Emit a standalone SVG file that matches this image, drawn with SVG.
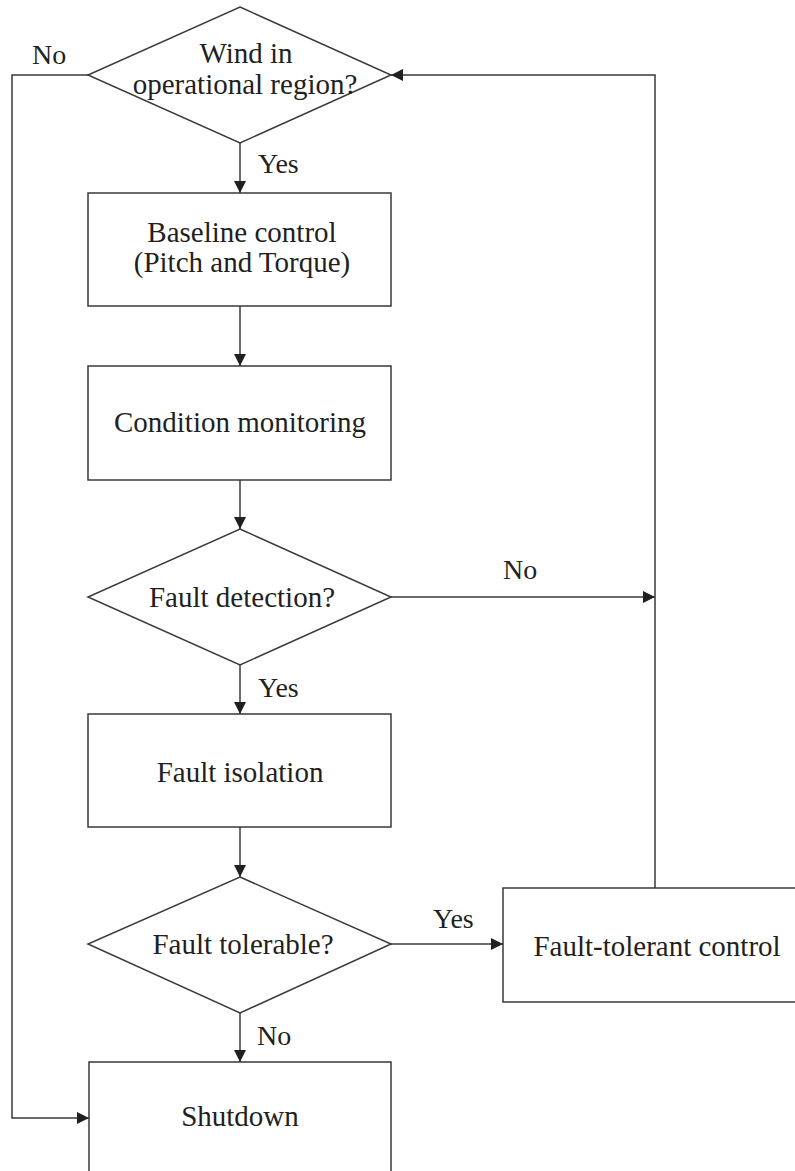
<svg xmlns="http://www.w3.org/2000/svg" width="795" height="1171" viewBox="0 0 795 1171">
<style>
.shape{fill:#ffffff;stroke:#3a3a3a;stroke-width:1.5}
.conn{fill:none;stroke:#3a3a3a;stroke-width:1.5}
.t{font-family:"Liberation Serif","Times New Roman",serif;font-size:29px;fill:#231f20;text-anchor:middle}
.lbl{font-family:"Liberation Serif","Times New Roman",serif;font-size:28px;fill:#231f20;text-anchor:start}
</style>
<defs>
<marker id="arr" markerUnits="userSpaceOnUse" markerWidth="13" markerHeight="12" refX="12" refY="6" orient="auto">
<path d="M0,0 L12,6 L0,12 z" fill="#231f20"/>
</marker>
</defs>
<rect width="795" height="1171" fill="#ffffff"/>
<g id="connectors">
<line class="conn" x1="240" y1="143" x2="240" y2="193" marker-end="url(#arr)"/>
<line class="conn" x1="240" y1="306" x2="240" y2="366" marker-end="url(#arr)"/>
<line class="conn" x1="240" y1="480" x2="240" y2="529" marker-end="url(#arr)"/>
<line class="conn" x1="240" y1="665" x2="240" y2="714" marker-end="url(#arr)"/>
<line class="conn" x1="240" y1="827" x2="240" y2="877" marker-end="url(#arr)"/>
<line class="conn" x1="240" y1="1013" x2="240" y2="1062" marker-end="url(#arr)"/>
<line class="conn" x1="391" y1="944" x2="503" y2="944" marker-end="url(#arr)"/>
<line class="conn" x1="391" y1="597" x2="655" y2="597" marker-end="url(#arr)"/>
<polyline class="conn" points="655,888 655,75 391,75" marker-end="url(#arr)"/>
<polyline class="conn" points="88,75 12,75 12,1118 89,1118" marker-end="url(#arr)"/>
<text class="lbl" x="32" y="64">No</text>
<text class="lbl" x="258" y="173">Yes</text>
<text class="lbl" x="503" y="579">No</text>
<text class="lbl" x="258" y="697">Yes</text>
<text class="lbl" x="433" y="928">Yes</text>
<text class="lbl" x="257" y="1045">No</text>
</g>
<g id="wind-decision">
<polygon class="shape" points="240,7 391,75 240,143 88,75"/>
<text class="t" x="246" y="63">Wind in</text>
<text class="t" x="245" y="94">operational region?</text>
</g>
<g id="baseline-control">
<rect class="shape" x="88" y="193" width="303" height="113"/>
<text class="t" x="242" y="242">Baseline control</text>
<text class="t" x="242" y="272">(Pitch and Torque)</text>
</g>
<g id="condition-monitoring">
<rect class="shape" x="88" y="366" width="303" height="114"/>
<text class="t" x="240" y="432">Condition monitoring</text>
</g>
<g id="fault-detection">
<polygon class="shape" points="240,529 391,597 240,665 88,597"/>
<text class="t" x="242" y="607">Fault detection?</text>
</g>
<g id="fault-isolation">
<rect class="shape" x="88" y="714" width="303" height="113"/>
<text class="t" x="240" y="782">Fault isolation</text>
</g>
<g id="fault-tolerable">
<polygon class="shape" points="240,877 391,944 240,1013 88,944"/>
<text class="t" x="243" y="954">Fault tolerable?</text>
</g>
<g id="fault-tolerant-control">
<rect class="shape" x="503" y="888" width="310" height="114"/>
<text class="t" x="657" y="956">Fault-tolerant control</text>
</g>
<g id="shutdown">
<rect class="shape" x="89" y="1062" width="302" height="120"/>
<text class="t" x="240" y="1126">Shutdown</text>
</g>
</svg>
